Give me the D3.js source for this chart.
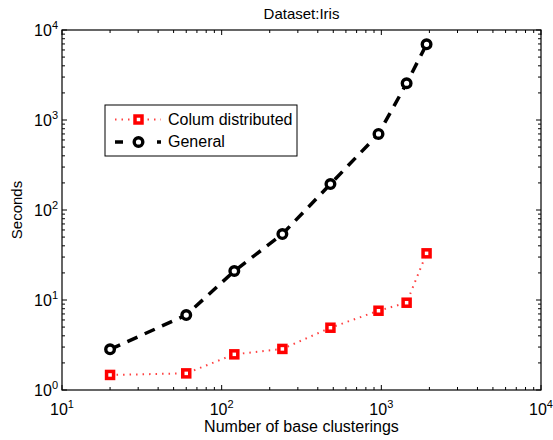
<!DOCTYPE html>
<html>
<head>
<meta charset="utf-8">
<script src="https://cdn.jsdelivr.net/npm/d3@7"></script>
<style>
body { margin: 0; background: #fff; }
svg text { font-family: "Liberation Sans", Arial, Helvetica, sans-serif; }
</style>
</head>
<body>
<div id="chart"></div>
<script>
var W = 553, H = 440;
var margin = {left: 62, top: 30, right: 12, bottom: 50};

// number of base clusterings
var clusterings = [20, 60, 120, 240, 480, 960, 1440, 1920];
// seconds
var columDistributed = [1.47, 1.53, 2.49, 2.86, 4.92, 7.6, 9.33, 33];
var general = [2.83, 6.8, 21, 54, 194, 700, 2560, 6930];

var seriesNames = ["Colum distributed", "General"];
var xTickExps = [1, 2, 3, 4];
var yTickExps = [0, 1, 2, 3, 4];

var red = "#ff0000";

var svg = d3.select("#chart").append("svg")
	.attr("width", W)
	.attr("height", H);

var x = d3.scaleLog().domain([10, 10000]).range([margin.left, W - margin.right]);
var y = d3.scaleLog().domain([1, 10000]).range([H - margin.bottom, margin.top]);

var x0 = x.range()[0], x1 = x.range()[1];
var y0 = y.range()[0], y1 = y.range()[1];

// minor ticks for each decade
function minorTicks(scale) {
	var d = scale.domain(), out = [];
	for(var p = Math.log10(d[0]); p < Math.log10(d[1]); p++) {
		for(var m = 2; m <= 9; m++) out.push(m * Math.pow(10, p));
	}
	return out;
}

var g = svg.append("g");

// ticks (inward, on all four sides)
function drawTicks(vals, len) {
	vals.forEach(function(v) {
		var px = x(v);
		g.append("line").attr("x1", px).attr("x2", px).attr("y1", y0).attr("y2", y0 - len);
		g.append("line").attr("x1", px).attr("x2", px).attr("y1", y1).attr("y2", y1 + len);
	});
}
function drawYTicks(vals, len) {
	vals.forEach(function(v) {
		var py = y(v);
		g.append("line").attr("x1", x0).attr("x2", x0 + len).attr("y1", py).attr("y2", py);
		g.append("line").attr("x1", x1).attr("x2", x1 - len).attr("y1", py).attr("y2", py);
	});
}
drawTicks(xTickExps.map(e => Math.pow(10, e)), 5);
drawTicks(minorTicks(x), 3);
drawYTicks(yTickExps.map(e => Math.pow(10, e)), 5);
drawYTicks(minorTicks(y), 3);
g.selectAll("line").attr("stroke", "#000").attr("stroke-width", 1);

g.append("rect")
	.attr("x", x0).attr("y", y1)
	.attr("width", x1 - x0).attr("height", y0 - y1)
	.attr("fill", "none").attr("stroke", "#000").attr("stroke-width", 1.2);

// tick labels
function powLabel(sel, e) {
	sel.append("tspan").text("10");
	sel.append("tspan").attr("dy", -7).style("font-size", "11px").text(e);
}
xTickExps.forEach(function(e) {
	var t = svg.append("text")
		.attr("x", x(Math.pow(10, e)))
		.attr("y", y0 + 25)
		.attr("text-anchor", "middle")
		.style("font-size", "16px");
	powLabel(t, e);
});
yTickExps.forEach(function(e) {
	var t = svg.append("text")
		.attr("x", x0 - 4)
		.attr("y", y(Math.pow(10, e)) + 5.5)
		.attr("text-anchor", "end")
		.style("font-size", "16px");
	powLabel(t, e);
});

// titles
svg.append("text")
	.attr("x", (x0 + x1) / 2).attr("y", 19)
	.attr("text-anchor", "middle")
	.style("font-size", "15px")
	.text("Dataset:Iris");
svg.append("text")
	.attr("x", (x0 + x1) / 2).attr("y", 432)
	.attr("text-anchor", "middle")
	.style("font-size", "16px")
	.text("Number of base clusterings");
svg.append("text")
	.attr("transform", "translate(22," + ((y0 + y1) / 2) + ") rotate(-90)")
	.attr("text-anchor", "middle")
	.style("font-size", "15px")
	.text("Seconds");

// lines
var line = d3.line()
	.x(d => x(d[0]))
	.y(d => y(d[1]));

var redData = clusterings.map((c, i) => [c, columDistributed[i]]);
var blackData = clusterings.map((c, i) => [c, general[i]]);

svg.append("path")
	.datum(redData)
	.attr("d", line)
	.attr("fill", "none")
	.attr("stroke", red)
	.attr("stroke-width", 2)
	.attr("stroke-dasharray", "1.5,5")
	.attr("opacity", 0.75);

svg.append("path")
	.datum(blackData)
	.attr("d", line)
	.attr("fill", "none")
	.attr("stroke", "#000")
	.attr("stroke-width", 3.5)
	.attr("stroke-dasharray", "11,8");

function squares(sel, data) {
	sel.selectAll(null)
		.data(data)
		.enter()
		.append("rect")
		.attr("x", d => x(d[0]) - 3.5)
		.attr("y", d => y(d[1]) - 3.5)
		.attr("width", 7).attr("height", 7)
		.attr("fill", "#fff")
		.attr("stroke", red)
		.attr("stroke-width", 3.5);
}
function circles(sel, data) {
	sel.selectAll(null)
		.data(data)
		.enter()
		.append("circle")
		.attr("cx", d => x(d[0]))
		.attr("cy", d => y(d[1]))
		.attr("r", 4.3)
		.attr("fill", "#fff")
		.attr("stroke", "#000")
		.attr("stroke-width", 3.4);
}

squares(svg.append("g"), redData);
circles(svg.append("g"), blackData);

// legend
var lg = svg.append("g").attr("transform", "translate(105,105)");
lg.append("rect")
	.attr("width", 192).attr("height", 51)
	.attr("fill", "#fff").attr("stroke", "#000").attr("stroke-width", 1);

lg.append("line")
	.attr("x1", 10).attr("x2", 56).attr("y1", 14.5).attr("y2", 14.5)
	.attr("stroke", red).attr("stroke-width", 2)
	.attr("stroke-dasharray", "1.5,5").attr("opacity", 0.75);
squares(lg.append("g").attr("transform", "translate(" + (33.5 - x(100)) + "," + (14.5 - y(100)) + ")"), [[100, 100]]);
lg.append("line")
	.attr("x1", 10).attr("x2", 56).attr("y1", 37).attr("y2", 37)
	.attr("stroke", "#000").attr("stroke-width", 3.5)
	.attr("stroke-dasharray", "8,13");
circles(lg.append("g").attr("transform", "translate(" + (33.5 - x(100)) + "," + (37 - y(100)) + ")"), [[100, 100]]);

seriesNames.forEach(function(n, i) {
	lg.append("text")
		.attr("x", 63).attr("y", i === 0 ? 19.5 : 42)
		.style("font-size", "16px")
		.text(n);
});
</script>
</body>
</html>
